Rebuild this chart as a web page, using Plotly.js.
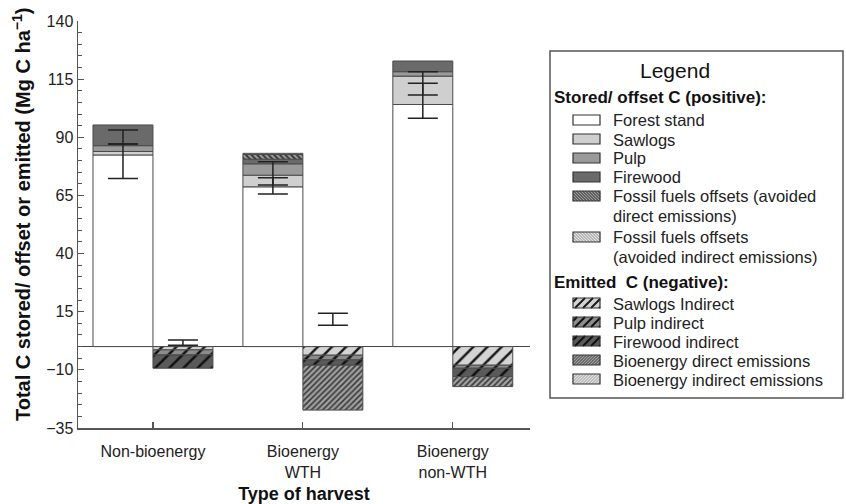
<!DOCTYPE html>
<html>
<head>
<meta charset="utf-8">
<script src="https://cdn.plot.ly/plotly-3.0.1.min.js"></script>
<style>html,body{margin:0;padding:0;background:#fff;}#chart{width:846px;height:504px;}</style>
</head>
<body>
<div id="chart"></div>
<script>
// Categories (x-axis)
var categories = ["Non-bioenergy", "Bioenergy<br>WTH", "Bioenergy<br>non-WTH"];

// Stored / offset C (positive), Mg C ha-1
var forestStand    = [82.4, 68.7, 104.1];
var sawlogs        = [1.5, 5.0, 12.2];
var pulp           = [2.5, 4.9, 1.9];
var firewood       = [8.9, 2.0, 4.6];
var fossilDirect   = [null, 2.0, null];
var fossilIndirect = [null, 0.5, null];

// Emitted C (negative), Mg C ha-1
var sawlogsIndirect  = [-1.4, -3.7, -8.0];
var pulpIndirect     = [-2.2, -2.0, -1.3];
var firewoodIndirect = [-5.7, -2.3, -3.6];
var bioDirect        = [null, -19.3, -4.3];
var bioIndirect      = [null, null, null];

// Error bars (low / high) on stored bars: two overlapping bars per category
var storedErrLowA  = [87.1, 69.5, 108.2];
var storedErrHighA = [93.1, 79.5, 118.2];
var storedErrLowB  = [72.3, 65.6, 98.2];
var storedErrHighB = [87.1, 72.6, 113.2];
// Error bars on emitted bars
var emittedErrLow  = [0.6, 9.2, null];
var emittedErrHigh = [2.8, 14.3, null];

// Legend labels
var posLegendTitle = "Stored/ offset C (positive):";
var negLegendTitle = "Emitted  C (negative):";
var posNames = ["Forest stand", "Sawlogs", "Pulp", "Firewood",
  "Fossil fuels offsets (avoided<br>direct emissions)",
  "Fossil fuels offsets<br>(avoided indirect emissions)"];
var negNames = ["Sawlogs Indirect", "Pulp indirect", "Firewood indirect",
  "Bioenergy direct emissions", "Bioenergy indirect emissions"];

var FONT = "Liberation Sans, Arial, Helvetica, sans-serif";
var idx = categories.map(function (c, i) { return i; });
var BARW = 0.4;
var outline = {color: "#4a4a4a", width: 1};

// styles: fill colour + optional hatch
var posStyles = [
  {bg: "#ffffff"},
  {bg: "#cfcfcf"},
  {bg: "#9a9a9a"},
  {bg: "#6a6a6a"},
  {bg: "#9a9a9a", hatch: {dir: "\\", size: 4, fg: "#2a2a2a", sol: 0.4}},
  {bg: "#e4e4e4", hatch: {dir: "\\", size: 4, fg: "#8a8a8a", sol: 0.4}}
];
var negStyles = [
  {bg: "#d4d4d4", hatch: {dir: "/", size: 10, fg: "#1a1a1a", sol: 0.25}},
  {bg: "#8c8c8c", hatch: {dir: "/", size: 10, fg: "#111111", sol: 0.25}},
  {bg: "#5a5a5a", hatch: {dir: "/", size: 10, fg: "#111111", sol: 0.25}},
  {bg: "#a0a0a0", hatch: {dir: "/", size: 4, fg: "#3a3a3a", sol: 0.4}},
  {bg: "#e2e2e2", hatch: {dir: "/", size: 4, fg: "#9a9a9a", sol: 0.4}}
];

function markerFor(st) {
  var m = {color: st.bg, line: outline};
  if (st.hatch) m.pattern = {shape: st.hatch.dir, bgcolor: st.bg, fgcolor: st.hatch.fg,
    size: st.hatch.size, solidity: st.hatch.sol};
  return m;
}
function bar(name, vals, st, offset) {
  return {type: "bar", name: name, x: idx, y: vals, width: BARW, offset: offset,
    marker: markerFor(st), showlegend: false, hoverinfo: "skip"};
}
function errTrace(xs, lo, hi) {
  var ys = lo.map(function (l, i) { return (l == null || hi[i] == null) ? null : (l + hi[i]) / 2; });
  var es = lo.map(function (l, i) { return (l == null || hi[i] == null) ? null : (hi[i] - l) / 2; });
  return {type: "scatter", mode: "markers", x: xs, y: ys, showlegend: false, hoverinfo: "skip",
    marker: {size: 1, color: "rgba(0,0,0,0)"},
    error_y: {type: "data", array: es, visible: true, color: "#222", thickness: 1.5, width: 15}};
}

var posX = idx.map(function (i) { return i - BARW / 2; });
var negX = idx.map(function (i) { return i + BARW / 2; });

var posSeries = [forestStand, sawlogs, pulp, firewood, fossilDirect, fossilIndirect];
var negSeries = [sawlogsIndirect, pulpIndirect, firewoodIndirect, bioDirect, bioIndirect];

var traces = [];
posSeries.forEach(function (s, i) { traces.push(bar(posNames[i].replace("<br>", " "), s, posStyles[i], -BARW)); });
negSeries.forEach(function (s, i) { traces.push(bar(negNames[i], s, negStyles[i], 0)); });
traces.push(errTrace(posX, storedErrLowA, storedErrHighA));
traces.push(errTrace(posX, storedErrLowB, storedErrHighB));
traces.push(errTrace(negX, emittedErrLow, emittedErrHigh));

// ---- manual legend (page pixel positions converted to paper coords) ----
var ML = 78, MT = 21, PW = 452, PH = 407;
function px(x) { return (x - ML) / PW; }
function py(y) { return (MT + PH - y) / PH; }

var shapes = [];
var annotations = [];
shapes.push({type: "rect", xref: "paper", yref: "paper", x0: px(550), x1: px(843), y0: py(51), y1: py(398),
  line: {color: "#555", width: 1.5}, fillcolor: "rgba(0,0,0,0)", layer: "above"});
annotations.push({xref: "paper", yref: "paper", x: px(675), y: py(70), text: "Legend", showarrow: false,
  xanchor: "center", yanchor: "middle", font: {size: 21, color: "#111"}});
annotations.push({xref: "paper", yref: "paper", x: px(553), y: py(98), text: "<b>" + posLegendTitle + "</b>",
  showarrow: false, xanchor: "left", yanchor: "middle", height: 19, borderpad: 0, font: {size: 17, color: "#111"}});
annotations.push({xref: "paper", yref: "paper", x: px(553), y: py(282), text: "<b>" + negLegendTitle + "</b>",
  showarrow: false, xanchor: "left", yanchor: "middle", height: 19, borderpad: 0, font: {size: 17, color: "#111"}});

function hatchPath(x0, y0, x1, y1, dir, sp) {
  var d = "";
  if (dir === "/") {
    for (var c = x0 + y0 + sp / 2; c < x1 + y1; c += sp) {
      var xa = Math.max(x0, c - y1), xb = Math.min(x1, c - y0);
      if (xb > xa) d += "M" + px(xa) + "," + py(c - xa) + " L" + px(xb) + "," + py(c - xb) + " ";
    }
  } else {
    for (var k = x0 - y1 + sp / 2; k < x1 - y0; k += sp) {
      var xa2 = Math.max(x0, k + y0), xb2 = Math.min(x1, k + y1);
      if (xb2 > xa2) d += "M" + px(xa2) + "," + py(xa2 - k) + " L" + px(xb2) + "," + py(xb2 - k) + " ";
    }
  }
  return d;
}
var LEG_LINE = 19.5;
function legendItem(st, label, yc) {
  var x0 = 573, x1 = 600, y0 = yc - 5, y1 = yc + 5;
  shapes.push({type: "rect", xref: "paper", yref: "paper", x0: px(x0), x1: px(x1), y0: py(y1), y1: py(y0),
    fillcolor: st.bg, line: {width: 0}, layer: "above"});
  if (st.hatch) {
    var coarse = st.hatch.size >= 8;
    shapes.push({type: "path", xref: "paper", yref: "paper", path: hatchPath(x0, y0, x1, y1, st.hatch.dir, coarse ? 8 : 3),
      line: {color: st.hatch.fg, width: coarse ? 2 : 1}, layer: "above"});
  }
  shapes.push({type: "rect", xref: "paper", yref: "paper", x0: px(x0), x1: px(x1), y0: py(y1), y1: py(y0),
    fillcolor: "rgba(0,0,0,0)", line: {color: "#333", width: 1.2}, layer: "above"});
  label.split("<br>").forEach(function (line, j) {
    annotations.push({xref: "paper", yref: "paper", x: px(612), y: py(yc + j * LEG_LINE), text: line, showarrow: false,
      xanchor: "left", yanchor: "middle", align: "left", height: 19, borderpad: 0,
      font: {size: 16.5, color: "#222"}});
  });
}
var posRowY = [120, 139, 158, 177, 196, 237];
var negRowY = [303, 322, 341, 360, 379];
posNames.forEach(function (n, i) { legendItem(posStyles[i], n, posRowY[i]); });
negNames.forEach(function (n, i) { legendItem(negStyles[i], n, negRowY[i]); });

// y-axis title as rotated annotation
annotations.push({xref: "paper", yref: "paper", x: px(22), y: py(215), textangle: -90, showarrow: false,
  xanchor: "center", yanchor: "middle",
  text: "<b>Total C stored/ offset or emitted (Mg C ha<sup>−1</sup>)</b>", font: {size: 20, color: "#111"}});

var layout = {
  width: 846, height: 504,
  margin: {l: ML, r: 846 - ML - PW, t: MT, b: 504 - MT - PH},
  paper_bgcolor: "#ffffff", plot_bgcolor: "#ffffff",
  font: {family: FONT, size: 16, color: "#222"},
  barmode: "relative",
  bargap: 0,
  showlegend: false,
  xaxis: {
    range: [-0.5, 2.515], tickvals: idx, ticktext: categories,
    showline: true, linecolor: "#555", linewidth: 1.5, mirror: false,
    ticks: "inside", ticklen: 6, tickcolor: "#555", tickwidth: 1.2,
    ticklabelstandoff: 8,
    showgrid: false, zeroline: false, fixedrange: true,
    tickfont: {size: 16, color: "#222"},
    title: {text: "<b>Type of harvest</b>", font: {size: 18, color: "#111"}, standoff: 8}
  },
  yaxis: {
    range: [-35, 140], tickvals: [-35, -10, 15, 40, 65, 90, 115, 140],
    showline: true, linecolor: "#555", linewidth: 1.5, mirror: false,
    ticks: "inside", ticklen: 6, tickcolor: "#555", tickwidth: 1.2,
    minor: {dtick: 5, tick0: 0, ticks: "inside", ticklen: 4, tickcolor: "#555", tickwidth: 1, showgrid: false},
    showgrid: false, zeroline: true, zerolinecolor: "#444", zerolinewidth: 1.5,
    fixedrange: true,
    tickfont: {size: 16, color: "#222"}
  },
  shapes: shapes,
  annotations: annotations
};

Plotly.newPlot("chart", traces, layout, {displayModeBar: false, staticPlot: true});
</script>
</body>
</html>
